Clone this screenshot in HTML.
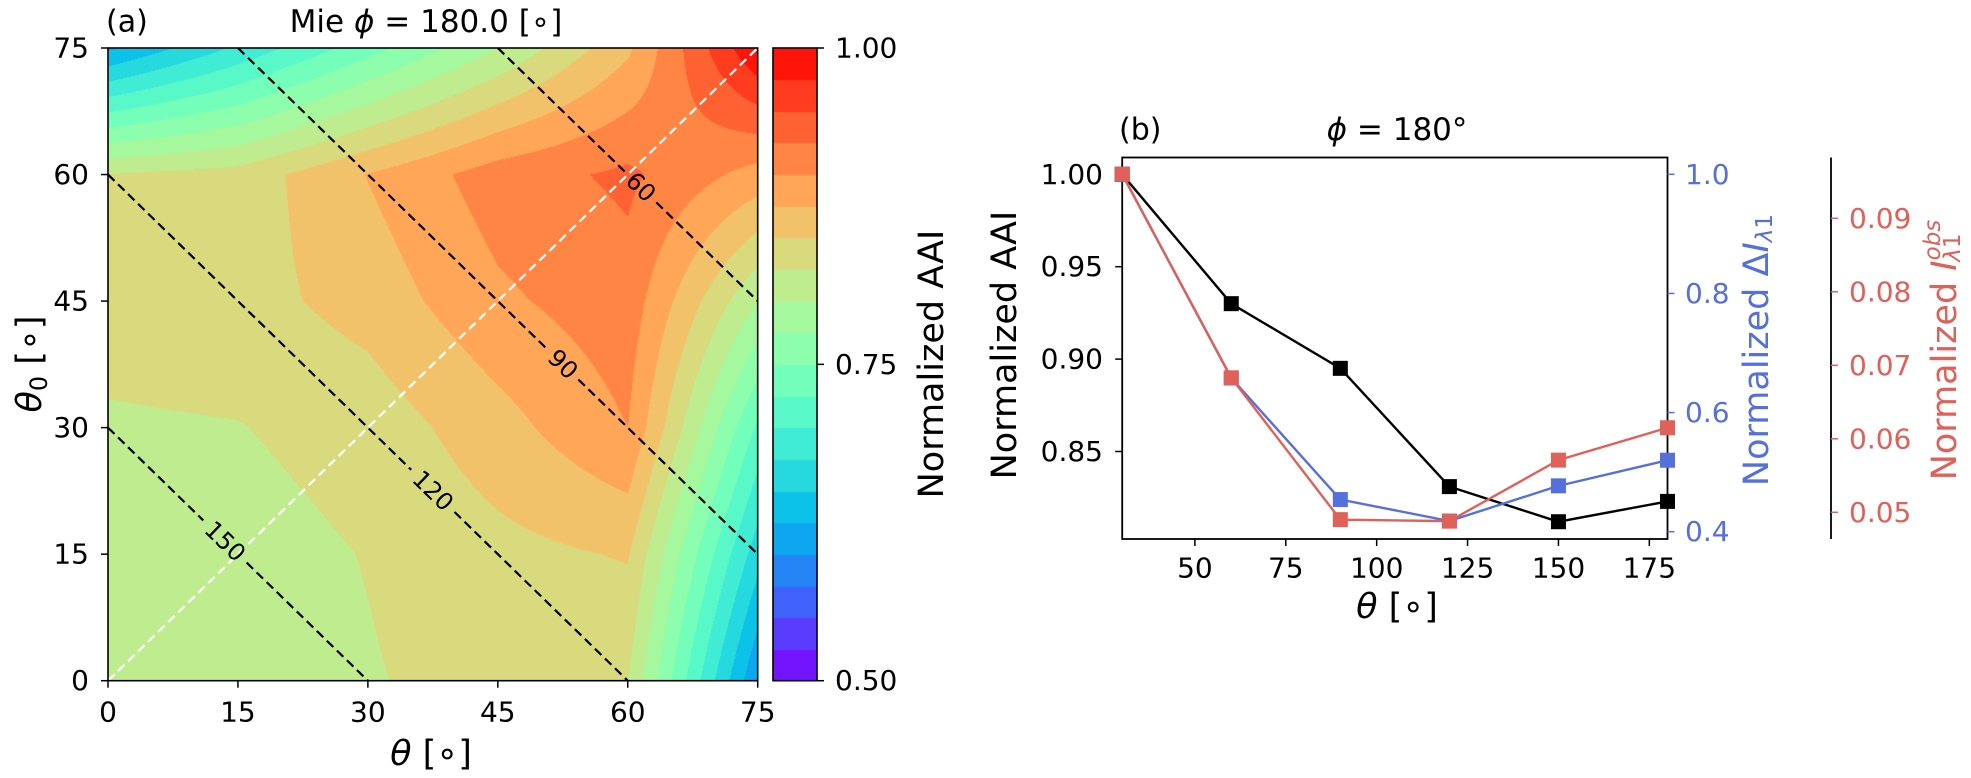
<!DOCTYPE html>
<html><head><meta charset="utf-8">
<style>
html,body{margin:0;padding:0;background:#fff;}
#wrap{position:relative;width:1971px;height:778px;overflow:hidden;font-family:"DejaVu Sans","Liberation Sans",sans-serif;}
#heat{position:absolute;left:108px;top:48px;}
#cbar{position:absolute;left:773px;top:48px;}
svg{position:absolute;left:0;top:0;}
text{font-family:"DejaVu Sans","Liberation Sans",sans-serif;}
</style></head>
<body>
<div id="wrap">
<canvas id="heat" width="650" height="633"></canvas>
<canvas id="cbar" width="44" height="633"></canvas>
<svg id="svg" width="1971" height="778" xmlns="http://www.w3.org/2000/svg"></svg>
</div>
<script>
// ---------- data: panel (a) ----------
const thetaGrid = [0, 15, 30, 45, 60, 75];
const theta0Grid = [0, 15, 30, 45, 60, 75];
const aaiRow0  = [0.820, 0.815, 0.823, 0.835, 0.825, 0.600];
const aaiRow15 = [0.825, 0.815, 0.826, 0.842, 0.852, 0.660];
const aaiRow30 = [0.822, 0.824, 0.835, 0.865, 0.900, 0.720];
const aaiRow45 = [0.835, 0.840, 0.860, 0.895, 0.915, 0.800];
const aaiRow60 = [0.826, 0.835, 0.876, 0.913, 0.930, 0.890];
const aaiRow75 = [0.620, 0.680, 0.740, 0.800, 0.870, 1.000];
const levelMin = 0.5, levelMax = 1.0, levelStep = 0.025;
const cbarTicks = [0.50, 0.75, 1.00];
const axisTicksA = [0, 15, 30, 45, 60, 75];
const scatSums = [30, 60, 90, 120];
const scatLabels = ["150", "120", "90", "60"];
const scatLabelTheta = [13.5, 37.5, 52.5, 61.5];
// ---------- data: panel (b) ----------
const thetaB = [30, 60, 90, 120, 150, 180];
const aaiB = [1.000, 0.930, 0.895, 0.831, 0.812, 0.823];
const deltaIB = [1.000, 0.658, 0.454, 0.418, 0.477, 0.520];
const iobsB = [0.0960, 0.0683, 0.0490, 0.0488, 0.0571, 0.0615];
const xTicksB = [50, 75, 100, 125, 150, 175];
const yTicksAAI = [0.85, 0.90, 0.95, 1.00];
const yTicksDelta = [0.4, 0.6, 0.8, 1.0];
const yTicksObs = [0.05, 0.06, 0.07, 0.08, 0.09];

const aaiGrid = [aaiRow0, aaiRow15, aaiRow30, aaiRow45, aaiRow60, aaiRow75];
const TICKFS = 28, TITLEFS = 35;

function rainbow(x){
  x = Math.max(0, Math.min(1, x));
  const r = Math.min(1, Math.abs(2*x-0.5)), g = Math.sin(Math.PI*x), b = Math.cos(Math.PI*x/2);
  return [Math.round(r*255), Math.round(g*255), Math.round(Math.max(0,b)*255)];
}
function bandColor(v){
  const n = Math.round((levelMax-levelMin)/levelStep);
  let k = Math.floor((v-levelMin)/levelStep);
  k = Math.max(0, Math.min(n-1, k));
  const mid = levelMin + (k+0.5)*levelStep;
  return rainbow((mid-levelMin)/(levelMax-levelMin));
}
const AX0=108, AX1=757.7, AY0=680.7, AY1=48;
const ax = t => AX0 + (t-0)/(75)*(AX1-AX0);
const ay = t => AY0 - (t-0)/(75)*(AY0-AY1);
function interp(t, t0){
  const fi = (t - thetaGrid[0])/(thetaGrid[1]-thetaGrid[0]);
  const fj = (t0 - theta0Grid[0])/(theta0Grid[1]-theta0Grid[0]);
  let i = Math.min(thetaGrid.length-2, Math.max(0, Math.floor(fi)));
  let j = Math.min(theta0Grid.length-2, Math.max(0, Math.floor(fj)));
  const u = fi - i, w = fj - j;
  const z00 = aaiGrid[j][i], z10 = aaiGrid[j][i+1], z01 = aaiGrid[j+1][i], z11 = aaiGrid[j+1][i+1];
  return z00*(1-u)*(1-w) + z10*u*(1-w) + z01*(1-u)*w + z11*u*w;
}
(function(){
  const c = document.getElementById('heat'), ctx = c.getContext('2d');
  const W=c.width, H=c.height, img = ctx.createImageData(W,H);
  for(let py=0;py<H;py++){
    const t0 = 75*(1-(py+0.5)/H);
    for(let px=0;px<W;px++){
      const t = 75*(px+0.5)/W;
      const col = bandColor(interp(t,t0));
      const k=(py*W+px)*4;
      img.data[k]=col[0]; img.data[k+1]=col[1]; img.data[k+2]=col[2]; img.data[k+3]=255;
    }
  }
  ctx.putImageData(img,0,0);
  const cb = document.getElementById('cbar'), cx = cb.getContext('2d');
  const n = Math.round((levelMax-levelMin)/levelStep);
  for(let k=0;k<n;k++){
    const lo = levelMin + k*levelStep;
    const col = bandColor(lo + levelStep/2);
    const yTop = cb.height*(1-(k+1)/n), yBot = cb.height*(1-k/n);
    cx.fillStyle = `rgb(${col[0]},${col[1]},${col[2]})`;
    cx.fillRect(0, Math.floor(yTop), cb.width, Math.ceil(yBot)-Math.floor(yTop));
  }
})();

const svg = document.getElementById('svg');
const NS = 'http://www.w3.org/2000/svg';
function mk(tag, attrs, parent){
  const e = document.createElementNS(NS, tag);
  for(const k in attrs) e.setAttribute(k, attrs[k]);
  (parent||svg).appendChild(e);
  return e;
}
function txt(s, x, y, size, anchor, fill, parent){
  const e = mk('text', {x:x, y:y, 'font-size':size, 'text-anchor':anchor||'middle', fill:fill||'#000', 'dominant-baseline':'central'}, parent);
  e.textContent = s;
  return e;
}

const defs = mk('defs', {});
const cp = mk('clipPath', {id:'clipA'}, defs);
mk('rect', {x:AX0, y:AY1, width:AX1-AX0, height:AY0-AY1}, cp);
const gA = mk('g', {'clip-path':'url(#clipA)'});


const diag = mk('line', {x1:ax(0), y1:ay(0), x2:ax(75), y2:ay(75), stroke:'#fff', 'stroke-width':2.2, 'stroke-dasharray':'9,5'}, gA);


scatSums.forEach((s, idx) => {
  const tStart = Math.max(0, s-75), tEnd = Math.min(75, s);
  const tL = scatLabelTheta[idx];
  const half = scatLabels[idx].length > 2 ? 2.5 : 1.8;
  [[tStart, tL-half], [tL+half, tEnd]].forEach(seg => {
    const l = mk('line', {x1:ax(seg[0]), y1:ay(s-seg[0]), x2:ax(seg[1]), y2:ay(s-seg[1]), stroke:'#000', 'stroke-width':2.2, 'stroke-dasharray':'9,5'}, gA);
    
    
  });
  const lx = ax(tL), ly = ay(s-tL);
  const ang = Math.atan2(ay(s-tL-1)-ly, ax(tL+1)-lx)*180/Math.PI;
  const t = txt(scatLabels[idx], lx, ly, 24, 'middle', '#000', gA);
  t.setAttribute('transform', `rotate(${ang} ${lx} ${ly})`);
  
  
});
const frameA = mk('rect', {x:AX0, y:AY1, width:AX1-AX0, height:AY0-AY1, fill:'none', stroke:'#000', 'stroke-width':1.6});


axisTicksA.forEach(v => {
  mk('line', {x1:ax(v), y1:AY0, x2:ax(v), y2:AY0+7, stroke:'#000', 'stroke-width':1.5});
  const tx = txt(String(v), ax(v), 712, TICKFS);
  
  
  mk('line', {x1:AX0-7, y1:ay(v), x2:AX0, y2:ay(v), stroke:'#000', 'stroke-width':1.5});
  const ty = txt(String(v), 89, ay(v), TICKFS, 'end');
  
  
});
const CB0=773, CB1=817, cby = v => AY0 - (v-levelMin)/(levelMax-levelMin)*(AY0-AY1);
const cbf = mk('rect', {x:CB0, y:AY1, width:CB1-CB0, height:AY0-AY1, fill:'none', stroke:'#000', 'stroke-width':1.6});


cbarTicks.forEach(v => {
  mk('line', {x1:CB1, y1:cby(v), x2:CB1+7, y2:cby(v), stroke:'#000', 'stroke-width':1.5});
  const t = txt(v.toFixed(2), 835, cby(v), TICKFS, 'start');
  
  
});
let t;
t = txt('Normalized AAI', 932, 364, TITLEFS);
t.setAttribute('transform', 'rotate(-90 932 364)');


t = txt('(a)', 106, 22, 30, 'start');


t = mk('text', {x:426, y:22, 'font-size':31, 'text-anchor':'middle', 'dominant-baseline':'central'});
t.innerHTML = 'Mie <tspan font-style="italic">ϕ</tspan> = 180.0 [∘]';


t = mk('text', {x:431, y:754, 'font-size':TITLEFS, 'text-anchor':'middle', 'dominant-baseline':'central'});
t.innerHTML = '<tspan font-style="italic">θ</tspan> [∘]';


t = mk('text', {x:30, y:364, 'font-size':TITLEFS, 'text-anchor':'middle', 'dominant-baseline':'central', transform:'rotate(-90 30 364)'});
t.innerHTML = '<tspan font-style="italic">θ</tspan><tspan font-size="24" dy="9">0</tspan><tspan dy="-9"> [∘]</tspan>';



// ----- panel b -----
const BX0=1122.2, BX1=1667.5, BY0=539, BY1=157.5;
const bx = v => BX0 + (v-30)/(180-30)*(BX1-BX0);
const byA = v => 174.3 + (1-v)*1848;
const byD = v => 174.3 + (1-v)*595.7;
const byO = v => 218.3 + (0.09-v)*7350;
const RED='#e0605a', BLUE='#5570dc';
const frameB = mk('rect', {x:BX0, y:BY1, width:BX1-BX0, height:BY0-BY1, fill:'none', stroke:'#000', 'stroke-width':1.8});


xTicksB.forEach(v => {
  mk('line', {x1:bx(v), y1:BY0, x2:bx(v), y2:BY0+7, stroke:'#000', 'stroke-width':1.5});
  const q = txt(String(v), bx(v), 568, TICKFS);
  
  
});
yTicksAAI.forEach(v => {
  mk('line', {x1:BX0-7, y1:byA(v), x2:BX0, y2:byA(v), stroke:'#000', 'stroke-width':1.5});
  const q = txt(v.toFixed(2), 1103, byA(v), TICKFS, 'end');
  
  
});
yTicksDelta.forEach(v => {
  mk('line', {x1:BX1, y1:byD(v), x2:BX1+7, y2:byD(v), stroke:BLUE, 'stroke-width':1.5});
  const q = txt(v.toFixed(1), 1685, byD(v), TICKFS, 'start', BLUE);
  
  
});
const sp = mk('line', {x1:1831, y1:BY1, x2:1831, y2:BY0, stroke:'#000', 'stroke-width':1.8});


yTicksObs.forEach(v => {
  mk('line', {x1:1831, y1:byO(v), x2:1838, y2:byO(v), stroke:RED, 'stroke-width':1.5});
  const q = txt(v.toFixed(2), 1849, byO(v), TICKFS, 'start', RED);
  
  
});
function series(vals, yf, color, name){
  const g = mk('g', {});
  
  
  const pts = thetaB.map((th,i) => bx(th)+','+yf(vals[i])).join(' ');
  mk('polyline', {points:pts, fill:'none', stroke:color, 'stroke-width':2.4}, g);
  thetaB.forEach((th,i) => {
    const r = mk('rect', {x:bx(th)-7.5, y:yf(vals[i])-7.5, width:15, height:15, fill:color}, g);
    
    
  });
}
series(aaiB, byA, '#000', 'aai-series');
series(deltaIB, byD, BLUE, 'delta-i-series');
series(iobsB, byO, RED, 'iobs-series');

t = txt('(b)', 1119, 130, 30, 'start');


t = mk('text', {x:1397, y:130, 'font-size':31, 'text-anchor':'middle', 'dominant-baseline':'central'});
t.innerHTML = '<tspan font-style="italic">ϕ</tspan> = 180°';


t = mk('text', {x:1397, y:607, 'font-size':TITLEFS, 'text-anchor':'middle', 'dominant-baseline':'central'});
t.innerHTML = '<tspan font-style="italic">θ</tspan> [∘]';


t = txt('Normalized AAI', 1005, 345, TITLEFS);
t.setAttribute('transform', 'rotate(-90 1005 345)');


t = mk('text', {x:1757, y:350, 'font-size':TITLEFS, 'text-anchor':'middle', 'dominant-baseline':'central', fill:BLUE, transform:'rotate(-90 1757 350)'});
t.innerHTML = 'Normalized Δ<tspan font-style="italic">I</tspan><tspan font-size="23" dy="8" font-style="italic">λ</tspan><tspan font-size="23">1</tspan>';


t = mk('text', {x:1945, y:350, 'font-size':TITLEFS, 'text-anchor':'middle', 'dominant-baseline':'central', fill:RED, transform:'rotate(-90 1945 350)'});
t.innerHTML = 'Normalized <tspan font-style="italic">I</tspan><tspan font-size="23" dy="-12" font-style="italic">obs</tspan><tspan font-size="23" dx="-42" dy="20" font-style="italic">λ</tspan><tspan font-size="23">1</tspan>';


</script>
</body></html>
